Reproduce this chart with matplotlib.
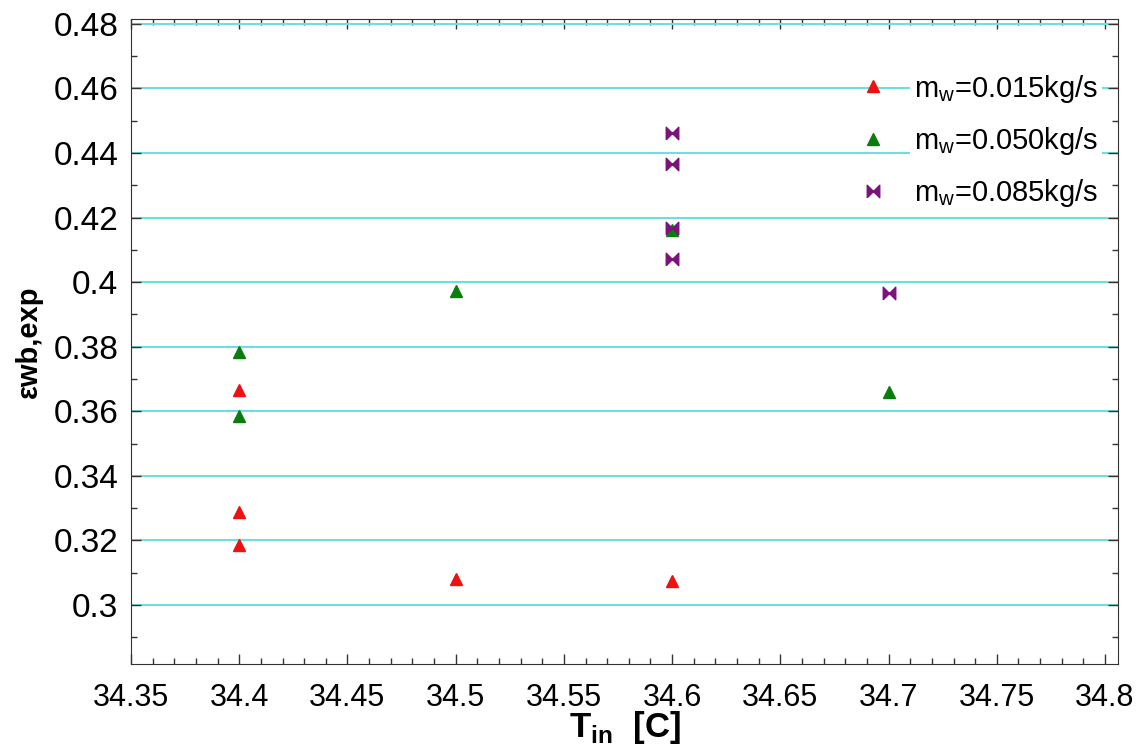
import matplotlib
matplotlib.use('Agg')
import matplotlib.pyplot as plt
from matplotlib.ticker import MultipleLocator

# Inlet temperature [C] and measured wet-bulb effectiveness, per water flow rate
t_015 = [34.4, 34.4, 34.4, 34.5, 34.6]
eps_015 = [0.3666, 0.3288, 0.3186, 0.3081, 0.3074]

t_050 = [34.4, 34.4, 34.5, 34.6, 34.7]
eps_050 = [0.3785, 0.3584, 0.3973, 0.4161, 0.3661]

t_085 = [34.6, 34.6, 34.6, 34.6, 34.7]
eps_085 = [0.4461, 0.4365, 0.4167, 0.4072, 0.3967]

labels = ['m$_\\mathrm{w}$=0.015kg/s', 'm$_\\mathrm{w}$=0.050kg/s', 'm$_\\mathrm{w}$=0.085kg/s']
x_ticks = [34.35, 34.4, 34.45, 34.5, 34.55, 34.6, 34.65, 34.7, 34.75, 34.8]
x_tick_labels = ['34.35', '34.4', '34.45', '34.5', '34.55', '34.6', '34.65', '34.7', '34.75', '34.8']
y_ticks = [0.3, 0.32, 0.34, 0.36, 0.38, 0.4, 0.42, 0.44, 0.46, 0.48]
y_tick_labels = ['0.3', '0.32', '0.34', '0.36', '0.38', '0.4', '0.42', '0.44', '0.46', '0.48']

plt.rcParams['font.family'] = ['Liberation Sans', 'DejaVu Sans']
plt.rcParams['mathtext.fontset'] = 'custom'
plt.rcParams['mathtext.rm'] = 'Liberation Sans'
plt.rcParams['mathtext.bf'] = 'Liberation Sans:bold'

# bow-tie marker for the 0.085 kg/s series
bowtie = [(-1, -1), (-1, 1), (1, -1), (1, 1), (-1, -1)]

fig = plt.figure(figsize=(11.42, 7.51), dpi=100)
ax = fig.add_axes([0.1147, 0.1158, 0.8643, 0.8589])

ax.plot(t_015, eps_015, linestyle='none', marker='^', markersize=9,
        color='#ee1111', label=labels[0], zorder=3)
ax.plot(t_050, eps_050, linestyle='none', marker='^', markersize=9,
        color='#0b7d0b', label=labels[1], zorder=3)
ax.plot(t_085, eps_085, linestyle='none', marker=bowtie, markersize=9,
        color='#7d127d', label=labels[2], zorder=4)

ax.set_xlim(34.35, 34.806)
ax.set_ylim(0.2817, 0.4815)
ax.set_xticks(x_ticks)
ax.set_xticklabels(x_tick_labels, fontsize=22)
ax.set_yticks(y_ticks)
ax.set_yticklabels(y_tick_labels, fontsize=24)
ax.xaxis.set_minor_locator(MultipleLocator(0.01))
ax.yaxis.set_minor_locator(MultipleLocator(0.01))
ax.tick_params(which='both', direction='in', top=True, right=True, color='#333333')
ax.tick_params(which='major', length=7, width=1)
ax.tick_params(which='minor', length=4, width=1)
ax.tick_params(axis='x', which='major', pad=14)
ax.tick_params(axis='y', which='major', pad=9)

ax.yaxis.grid(True, color='#6fdede', linewidth=1.5)
ax.set_axisbelow(True)
for s in ax.spines.values():
    s.set_color('#333333')

ax.set_xlabel('T$_\\mathbf{in}$  [C]', fontsize=25, fontweight='bold', labelpad=-3)
ax.set_ylabel('εwb,exp', fontsize=21, fontweight='bold', labelpad=8)

leg = ax.legend(loc='upper left', bbox_to_anchor=(0.722, 0.935), frameon=False,
                fontsize=21, handlelength=1.2, handletextpad=0.8, labelspacing=0.7,
                borderaxespad=0.0)
for txt in leg.get_texts():
    txt.set_bbox(dict(facecolor='white', edgecolor='none', pad=3))

fig.savefig('out.png', dpi=100, facecolor='white')
